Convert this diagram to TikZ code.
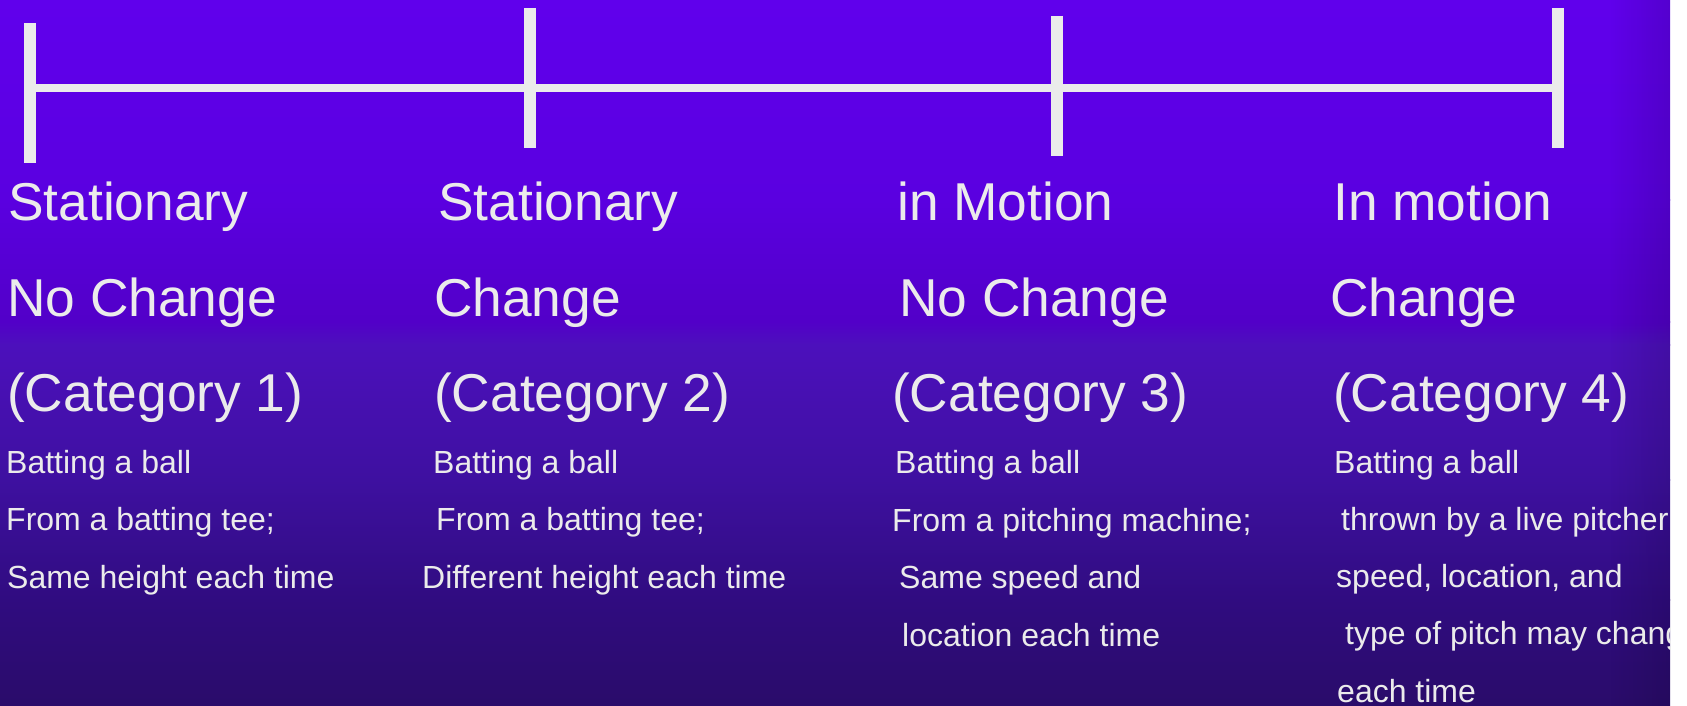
\documentclass[tikz,border=0pt]{standalone}
\usepackage{fontspec}
\setmainfont{Liberation Sans}
\usetikzlibrary{fadings}
\definecolor{txt}{RGB}{235,235,235}
\definecolor{bgA}{RGB}{96,0,236}
\definecolor{bgB}{RGB}{90,0,224}
\definecolor{bgC}{RGB}{82,0,200}
\definecolor{bgD}{RGB}{76,16,188}
\definecolor{bgE}{RGB}{62,16,160}
\definecolor{bgF}{RGB}{48,12,128}
\definecolor{bgG}{RGB}{42,12,106}
\tikzset{
  bigtxt/.style={anchor=base west,inner sep=0pt,text=txt,font=\fontsize{53.3}{60}\selectfont},
  smalltxt/.style={anchor=base west,inner sep=0pt,text=txt,font=\fontsize{32}{36}\selectfont},
  tick/.style={draw=txt,line width=11.5pt},
  axisline/.style={draw=txt,line width=8pt}
}
\begin{document}
\begin{tikzpicture}[x=1pt,y=-1pt]
\useasboundingbox (0,0) rectangle (1687,706);
\fill[white] (0,0) rectangle (1687,706);
\shade[top color=bgA,bottom color=bgB] (0,0) rectangle (1670,200);
\shade[top color=bgB,bottom color=bgC] (0,199.5) rectangle (1670,322);
\shade[top color=bgC,bottom color=bgD] (0,321.5) rectangle (1670,345);
\shade[top color=bgD,bottom color=bgE] (0,344.5) rectangle (1670,480);
\shade[top color=bgE,bottom color=bgF] (0,479.5) rectangle (1670,600);
\shade[top color=bgF,bottom color=bgG] (0,599.5) rectangle (1670,706);
\fill[black,opacity=0.12,path fading=west] (1610,0) rectangle (1670,706);
\begin{scope}
\clip (0,0) rectangle (1670,706);
% timeline
\coordinate (t1) at (30,88);
\coordinate (t2) at (530,88);
\coordinate (t3) at (1057,88);
\coordinate (t4) at (1558,88);
\coordinate (t1a) at (30,23);  \coordinate (t1b) at (30,163);
\coordinate (t2a) at (530,8);  \coordinate (t2b) at (530,148);
\coordinate (t3a) at (1057,16); \coordinate (t3b) at (1057,156);
\coordinate (t4a) at (1558,8); \coordinate (t4b) at (1558,148);
\draw[axisline] (t1) -- (t4);
\draw[tick] (t1a) -- (t1b);
\draw[tick] (t2a) -- (t2b);
\draw[tick] (t3a) -- (t3b);
\draw[tick] (t4a) -- (t4b);
% column 1
\node[bigtxt] (c1a) at (8,220) {Stationary};
\node[bigtxt] (c1b) at (7,316) {No Change};
\node[bigtxt] (c1c) at (7,411) {(Category 1)};
\node[smalltxt] (c1d) at (6,473) {Batting a ball};
\node[smalltxt] (c1e) at (6,530) {From a batting tee;};
\node[smalltxt] (c1f) at (7,588) {Same height each time};
% column 2
\node[bigtxt] (c2a) at (438,220) {Stationary};
\node[bigtxt] (c2b) at (434,316) {Change};
\node[bigtxt] (c2c) at (434,411) {(Category 2)};
\node[smalltxt] (c2d) at (433,473) {Batting a ball};
\node[smalltxt] (c2e) at (436,530) {From a batting tee;};
\node[smalltxt] (c2f) at (422,588) {Different height each time};
% column 3
\node[bigtxt] (c3a) at (897,220) {in Motion};
\node[bigtxt] (c3b) at (899,316) {No Change};
\node[bigtxt] (c3c) at (892,411) {(Category 3)};
\node[smalltxt] (c3d) at (895,473) {Batting a ball};
\node[smalltxt] (c3e) at (892,531) {From a pitching machine;};
\node[smalltxt] (c3f) at (899,588) {Same speed and};
\node[smalltxt] (c3g) at (902,646) {location each time};
% column 4
\node[bigtxt] (c4a) at (1333,220) {In motion};
\node[bigtxt] (c4b) at (1330,316) {Change};
\node[bigtxt] (c4c) at (1333,411) {(Category 4)};
\node[smalltxt] (c4d) at (1334,473) {Batting a ball};
\node[smalltxt] (c4e) at (1341,530) {thrown by a live pitcher};
\node[smalltxt] (c4f) at (1336,587) {speed, location, and};
\node[smalltxt] (c4g) at (1345,644) {type of pitch may change};
\node[smalltxt] (c4h) at (1337,702) {each time};
\end{scope}
\end{tikzpicture}
\end{document}
